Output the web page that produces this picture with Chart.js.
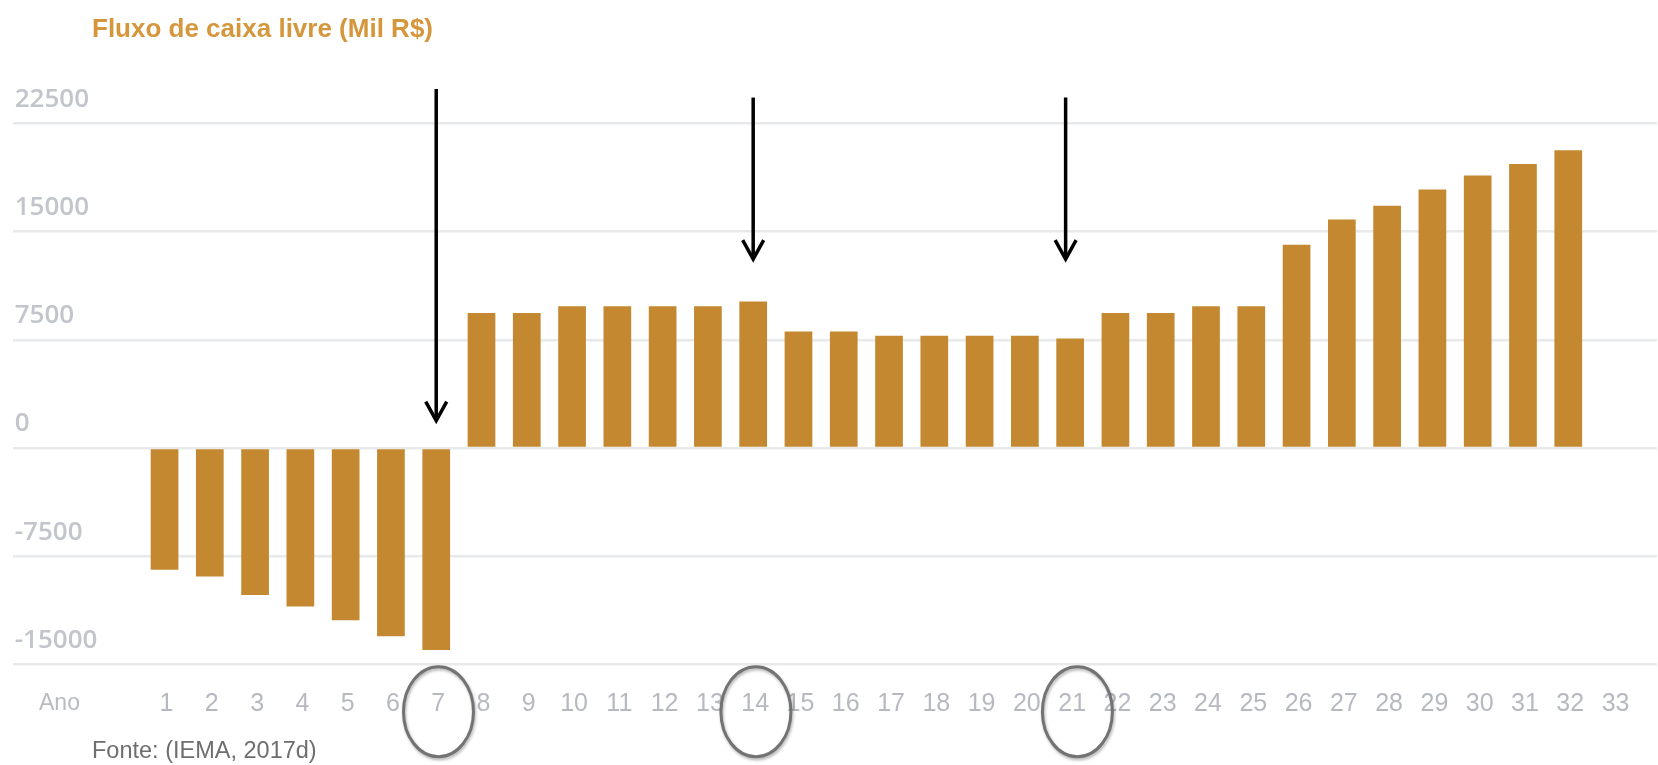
<!DOCTYPE html>
<html><head><meta charset="utf-8">
<script src="https://cdn.jsdelivr.net/npm/chart.js@4.4.1/dist/chart.umd.min.js"></script>
<style>html,body{margin:0;padding:0;background:#fff;overflow:hidden}#wrap{width:1658px;height:765px;position:relative}canvas{display:block}</style>
</head><body><div id="wrap"><canvas id="c" width="1658" height="765" style="width:1658px;height:765px"></canvas></div>
<script>
const years = [1,2,3,4,5,6,7,8,9,10,11,12,13,14,15,16,17,18,19,20,21,22,23,24,25,26,27,28,29,30,31,32,33];
const xTickLabels = ['1','2','3','4','5','6','7','8','9','10','11','12','13','14','15','16','17','18','19','20','21','22','23','24','25','26','27','28','29','30','31','32','33'];
const flows = [-8450,-8910,-10190,-10990,-11940,-13060,-14010,9365,9365,9830,9830,9830,9830,10160,8080,8080,7780,7780,7780,7780,7590,9365,9365,9830,9830,14090,15840,16790,17930,18890,19700,20650];
const yTicks = [-15000,-7500,0,7500,15000,22500];
const yTickLabels = ['-15000','-7500','0','7500','15000','22500'];
const titleText = 'Fluxo de caixa livre (Mil R$)';
const axisText = 'Ano';
const sourceText = 'Fonte: (IEMA, 2017d)';
const highlightYears = [7.05,14.06,21.16];
const arrowYears = [7,14,20.9];
const arrowTops = [24900,24300,24300];
const arrowTips = [1900,13100,13100];

const annotations = {
  id:'annotations',
  afterDraw(chart){
    const ctx = chart.ctx, xs = chart.scales.x, ys = chart.scales.y;
    ctx.save();
    ctx.fillStyle = '#d6973c';
    ctx.font = 'bold 26px "Liberation Sans", Arial, sans-serif';
    ctx.textAlign = 'left'; ctx.textBaseline = 'alphabetic';
    ctx.fillText(titleText, 92, 37);
    const tickY = xs.top + 25 + 14.4;
    ctx.fillStyle = '#b8bbc1';
    ctx.font = '23px "Liberation Sans", Arial, sans-serif';
    ctx.textBaseline = 'middle';
    ctx.fillText(axisText, 39, tickY);
    ctx.fillStyle = '#6e6e6e';
    ctx.font = '23.5px "Liberation Sans", Arial, sans-serif';
    ctx.textBaseline = 'alphabetic';
    ctx.fillText(sourceText, 92, 758);
    ctx.strokeStyle = '#000'; ctx.lineWidth = 3.5; ctx.lineCap = 'butt';
    arrowYears.forEach((yr,i)=>{
      const x = xs.getPixelForValue(yr);
      const y0 = ys.getPixelForValue(arrowTops[i]);
      const y1 = ys.getPixelForValue(arrowTips[i]);
      ctx.beginPath(); ctx.moveTo(x,y0); ctx.lineTo(x,y1-2); ctx.stroke();
      ctx.beginPath(); ctx.moveTo(x-10.5,y1-19); ctx.lineTo(x,y1); ctx.lineTo(x+10.5,y1-19); ctx.stroke();
    });
    ctx.strokeStyle = '#737373'; ctx.lineWidth = 3;
    ctx.shadowColor = 'rgba(0,0,0,0.3)'; ctx.shadowBlur = 3; ctx.shadowOffsetX = 1; ctx.shadowOffsetY = 2;
    highlightYears.forEach(yr=>{
      const x = xs.getPixelForValue(yr);
      ctx.beginPath(); ctx.ellipse(x, tickY + 8, 35, 45, 0, 0, Math.PI*2); ctx.stroke();
    });
    ctx.restore();
  }
};

new Chart(document.getElementById('c'), {
  type:'bar',
  data:{ datasets:[{
    data: flows.map((v,i)=>({x:years[i], y:v})),
    backgroundColor:'#c48930',
    borderWidth:0,
    categoryPercentage:1,
    barPercentage:0.612
  }]},
  options:{
    responsive:false, animation:false, devicePixelRatio:1,
    layout:{padding:{left:8.7,right:1,top:123.5,bottom:20.7}},
    plugins:{legend:{display:false},tooltip:{enabled:false},title:{display:false}},
    scales:{
      x:{ type:'linear', min:-2.353, max:33.96, offset:false,
        grid:{display:false, drawTicks:false, offset:false}, border:{display:false},
        afterBuildTicks: s => { s.ticks = years.map(v=>({value:v})); },
        ticks:{ autoSkip:false, maxRotation:0, padding:25, labelOffset:2, color:'#b6b9bf',
          font:{family:'"Liberation Sans Narrow", "Liberation Sans", Arial, sans-serif', size:25, lineHeight:1.2},
          callback:(v)=> xTickLabels[years.indexOf(v)] ?? '' }
      },
      y:{ min:-15000, max:22500,
        afterBuildTicks: s => { s.ticks = yTicks.map(v=>({value:v})); },
        grid:{color:'#e8e9eb', lineWidth:2.5, drawTicks:false},
        border:{display:false},
        ticks:{ mirror:true, padding:2, labelOffset:-24, color:'#c2c5cb',
          font:{family:'"Open Sans", sans-serif', size:26, weight:'600'},
          callback:(v)=> yTickLabels[yTicks.indexOf(v)] ?? '' }
      }
    }
  },
  plugins:[annotations]
});
</script></body></html>
